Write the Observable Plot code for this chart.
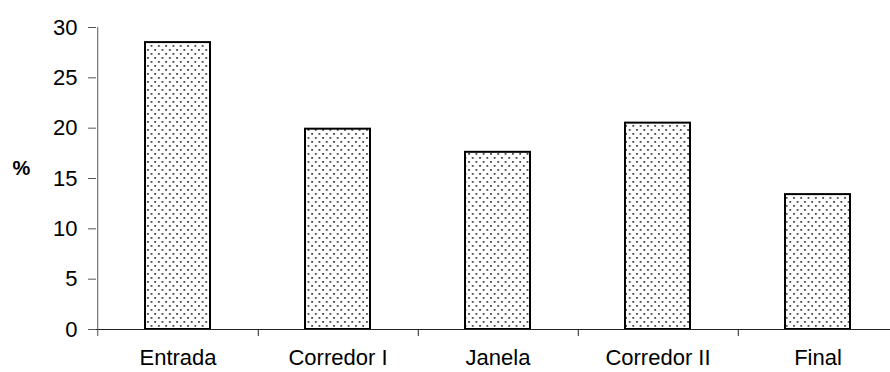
<!DOCTYPE html>
<html>
<head>
<meta charset="utf-8">
<script src="https://cdn.jsdelivr.net/npm/d3@7"></script>
<script src="https://cdn.jsdelivr.net/npm/@observablehq/plot@0.6"></script>
<style>
  html, body { margin: 0; padding: 0; background: #fff; overflow: hidden; }
</style>
</head>
<body>
<div id="chart"></div>
<script>
// Share of records by location (%)
const categories = ["Entrada", "Corredor I", "Janela", "Corredor II", "Final"];
const values = [28.5, 19.9, 17.6, 20.5, 13.4];
const yTicks = [0, 5, 10, 15, 20, 25, 30];
const yLabel = "%";

const rows = categories.map((category, i) => ({category, value: values[i]}));

// Layout
const chartW = 890, chartH = 372;
const mLeft = 96, mTop = 27, mBottom = 43;
const xEnd = 898.5;                       // last band runs slightly past the right edge
const step = (xEnd - mLeft) / categories.length;
const font = "'Liberation Sans', Arial, sans-serif";

// Dotted fill pattern for the bars
function dotPattern() {
  const defs = d3.create("svg:defs");
  const p = defs.append("pattern")
    .attr("id", "dots")
    .attr("patternUnits", "userSpaceOnUse")
    .attr("width", 7.3)
    .attr("height", 8);
  p.append("rect").attr("width", 7.3).attr("height", 8).attr("fill", "#fff");
  p.append("rect").attr("x", 1).attr("y", 1).attr("width", 1.8).attr("height", 1.8).attr("fill", "#444");
  p.append("rect").attr("x", 4.65).attr("y", 5).attr("width", 1.8).attr("height", 1.8).attr("fill", "#444");
  return defs.node();
}

const chart = Plot.plot({
  width: chartW,
  height: chartH,
  marginLeft: mLeft,
  marginTop: mTop,
  marginBottom: mBottom,
  marginRight: 0,
  style: {fontFamily: font, fontSize: "22px", background: "#fff", color: "#000"},
  x: {domain: categories, range: [mLeft, xEnd], paddingInner: 0.595, paddingOuter: 0.2975, axis: null},
  y: {domain: [0, 30], axis: null},
  marks: [
    dotPattern,
    Plot.barY(rows, {x: "category", y: "value", fill: "url(#dots)", stroke: "#000", strokeWidth: 2}),
    // x axis line
    Plot.ruleY([0], {stroke: "#222"}),
    // y axis line, running a little below zero
    Plot.ruleX([categories[0]], {dx: -step / 2, y1: 30, y2: 0, insetBottom: -7, stroke: "#555"}),
    // category separators below the x axis
    Plot.ruleX(categories, {dx: step / 2, y1: 0, y2: 0, insetBottom: -7, stroke: "#222"}),
    Plot.axisY({ticks: yTicks, tickSize: 8, tickPadding: 11, stroke: "#555", fill: "#000", fontSize: 22, label: null}),
    Plot.axisX({tickSize: 0, tickPadding: 20, fill: "#000", fontSize: 22, label: null}),
    Plot.text([yLabel], {frameAnchor: "left", dx: -75, dy: -10, textAnchor: "middle", fontWeight: "bold", fontSize: 20, fill: "#000"})
  ]
});

document.getElementById("chart").appendChild(chart);
</script>
</body>
</html>
